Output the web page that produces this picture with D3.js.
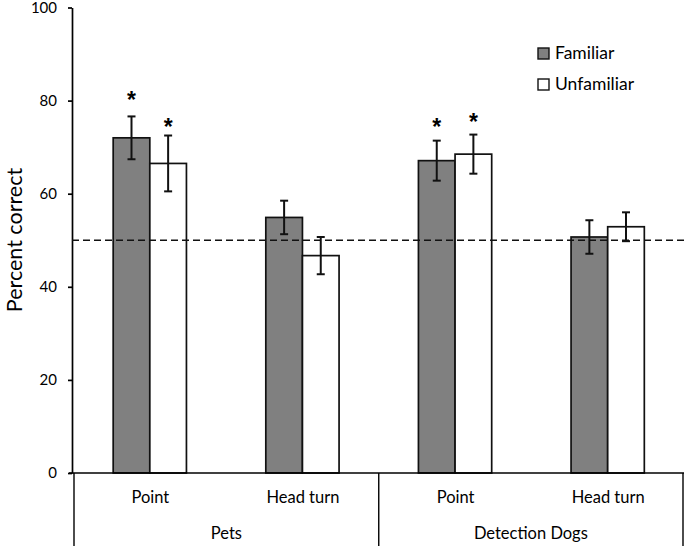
<!DOCTYPE html>
<html><head><meta charset="utf-8">
<script src="https://cdn.jsdelivr.net/npm/d3@7"></script>
<style>
body{margin:0;background:#fff;}
text{font-family:Lato,"Open Sans",sans-serif;fill:#000;}
</style></head>
<body><svg id="c" width="685" height="546"></svg>
<script>
const groups = ["Pets", "Detection Dogs"];
const conditions = ["Point", "Head turn"];
const series = ["Familiar", "Unfamiliar"];
const familiarMean = [72.0, 54.9, 67.1, 50.7];
const familiarErr = [4.6, 3.6, 4.3, 3.6];
const unfamiliarMean = [66.5, 46.7, 68.5, 52.9];
const unfamiliarErr = [6.0, 4.0, 4.2, 3.1];
const familiarStar = [81.3, null, 75.3, null];
const unfamiliarStar = [75.5, null, 76.5, null];
const yTicks = [0, 20, 40, 60, 80, 100];
const chanceLevel = 50;
const yLabel = "Percent correct";

const svg = d3.select("#c");
const cats = [];
groups.forEach(g => conditions.forEach(c => cats.push(g + "|" + c)));
const means = [familiarMean, unfamiliarMean];
const errs = [familiarErr, unfamiliarErr];
const stars = [familiarStar, unfamiliarStar];
const fills = ["#808080", "#ffffff"];

const x0 = d3.scaleBand().domain(cats).range([73.5, 684]).paddingInner(0.52).paddingOuter(0.26);
const x1 = d3.scaleBand().domain(series).range([0, x0.bandwidth()]);
const y = d3.scaleLinear().domain([0, 100]).range([473, 7.5]);

// y axis
const yAxis = d3.axisLeft(y).tickValues(yTicks).tickSize(4).tickPadding(11).tickSizeOuter(0);
const gy = svg.append("g").attr("transform", "translate(72,0)").call(yAxis);
gy.select(".domain").attr("stroke", "#000").attr("stroke-width", 1.7);
gy.selectAll(".tick line").attr("stroke", "#000").attr("stroke-width", 1.7);
gy.selectAll(".tick text").attr("font-size", 15).attr("font-family", "Lato").attr("fill", "#000");

svg.append("text").attr("transform", "translate(22,240) rotate(-90)")
  .attr("text-anchor", "middle").attr("font-size", 21.5).text(yLabel);

// bars
series.forEach((s, si) => {
  const g = svg.append("g");
  g.selectAll("rect").data(cats).join("rect")
    .attr("x", d => x0(d) + x1(s))
    .attr("y", (d, i) => y(means[si][i]))
    .attr("width", x1.bandwidth())
    .attr("height", (d, i) => y(0) - y(means[si][i]))
    .attr("fill", fills[si]).attr("stroke", "#111").attr("stroke-width", 1.7);
});

// chance line
svg.append("line").attr("x1", 72).attr("x2", 684).attr("y1", y(chanceLevel)).attr("y2", y(chanceLevel))
  .attr("stroke", "#111").attr("stroke-width", 1.6).attr("stroke-dasharray", "7,4");

// error bars & stars
series.forEach((s, si) => {
  cats.forEach((c, i) => {
    const cx = x0(c) + x1(s) + x1.bandwidth() / 2;
    const m = means[si][i], e = errs[si][i];
    const g = svg.append("g").attr("stroke", "#111").attr("stroke-width", 2);
    g.append("line").attr("x1", cx).attr("x2", cx).attr("y1", y(m + e)).attr("y2", y(m - e));
    g.append("line").attr("x1", cx - 4).attr("x2", cx + 4).attr("y1", y(m + e)).attr("y2", y(m + e));
    g.append("line").attr("x1", cx - 4).attr("x2", cx + 4).attr("y1", y(m - e)).attr("y2", y(m - e));
    if (stars[si][i] != null) {
      svg.append("text").attr("x", cx).attr("y", y(stars[si][i]) + 13)
        .attr("text-anchor", "middle").attr("font-size", 23).attr("font-weight", "bold")
        .style("font-family", "'Liberation Sans', Arial, sans-serif").text("*");
    }
  });
});

// x axis baseline
svg.append("line").attr("x1", 69).attr("x2", 684).attr("y1", y(0)).attr("y2", y(0))
  .attr("stroke", "#000").attr("stroke-width", 1.7);

// category labels
svg.selectAll(".cat").data(cats).join("text")
  .attr("x", d => x0(d) + x0.bandwidth() / 2 + 0.5)
  .attr("y", 503).attr("text-anchor", "middle").attr("font-size", 16.5)
  .text(d => d.split("|")[1]);

// group labels & separators
const step = x0.step();
const gStart = x0.range()[0];
const sepXs = [74, gStart + conditions.length * step, 683];
sepXs.forEach(sx => {
  svg.append("line").attr("x1", sx).attr("x2", sx).attr("y1", y(0)).attr("y2", 546)
    .attr("stroke", "#000").attr("stroke-width", 1.4);
});
groups.forEach((g, gi) => {
  const a = gi === 0 ? 74 : sepXs[1];
  const b = gi === 0 ? sepXs[1] : 683;
  svg.append("text").attr("x", (a + b) / 2).attr("y", 539).attr("text-anchor", "middle")
    .attr("font-size", 16.5).text(g);
});

// legend
series.forEach((s, si) => {
  const ly = 48 + si * 31;
  svg.append("rect").attr("x", 538).attr("y", ly).attr("width", 11).attr("height", 11)
    .attr("fill", fills[si]).attr("stroke", "#111").attr("stroke-width", 1.4);
  svg.append("text").attr("x", 555).attr("y", ly + 11).attr("font-size", 17.5).text(s);
});
</script></body></html>
